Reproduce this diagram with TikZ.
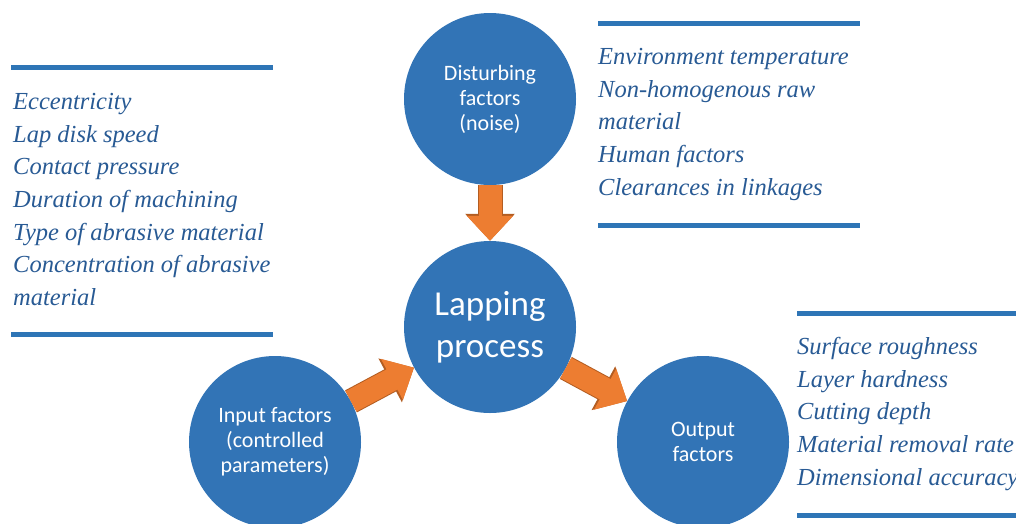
\documentclass[tikz,border=0pt]{standalone}
\usepackage{fontspec}
\setmainfont{Liberation Serif}
\newfontfamily\bubblefont{Carlito}
\usetikzlibrary{arrows.meta, positioning}

\definecolor{bubble}{HTML}{3274B6}
\definecolor{flowfill}{HTML}{ED7D31}
\definecolor{flowline}{HTML}{B35D22}
\definecolor{listtext}{HTML}{285A94}
\definecolor{rulecol}{HTML}{2E75B6}

\begin{document}
\begin{tikzpicture}[
  x=1pt, y=-1pt,
  factor/.style={circle, fill=bubble, text=white, minimum size=172pt, inner sep=0pt, align=center,
    font=\bubblefont\fontsize{22}{25}\selectfont},
  core/.style={factor, font=\bubblefont\fontsize{35}{42}\selectfont},
  items/.style={anchor=north west, inner sep=0pt, align=left, text=listtext,
    font=\itshape\fontsize{24.5}{32.7}\selectfont},
  rule/.style={draw=rulecol, line width=5pt},
  flow/.style={draw=flowfill, line width=23pt, -{Triangle[length=25pt, width=45pt]},
    preaction={draw=flowline, line width=25pt, -{Triangle[length=27pt, width=48pt]}}}
]
\useasboundingbox (0,0) rectangle (1016,523);

% Nodes
\node[factor] (noise)  at (490,99)  {Disturbing\\factors\\(noise)};
\node[core]   (lap)    at (490,327) {Lapping\\process};
\node[factor] (input)  at (275,442) {Input factors\\(controlled\\parameters)};
\node[factor] (output) at (703,442) {Output\\factors};

% Lists of factors
\node[items] (inlist) at (13,93) {Eccentricity\\Lap disk speed\\Contact pressure\\Duration of machining\\Type of abrasive material\\Concentration of abrasive\\material};
\node[items] (noiselist) at (598,48) {Environment temperature\\Non-homogenous raw\\material\\Human factors\\Clearances in linkages};
\node[items] (outlist) at (797,337) {Surface roughness\\Layer hardness\\Cutting depth\\Material removal rate\\Dimensional accuracy};

% Rules above and below each list
\draw[rule] (11,67) -- (273,67);
\draw[rule] (11,334) -- (273,334);
\draw[rule] (598,23) -- (860,23);
\draw[rule] (598,225) -- (860,225);
\draw[rule] (797,313) -- (1016,313);
\draw[rule] (797,515) -- (1016,515);

% Arrows
\draw[flow] (noise) -- (lap);
\draw[flow] (input) -- (lap);
\draw[flow] (lap) -- (output);

\end{tikzpicture}
\end{document}
